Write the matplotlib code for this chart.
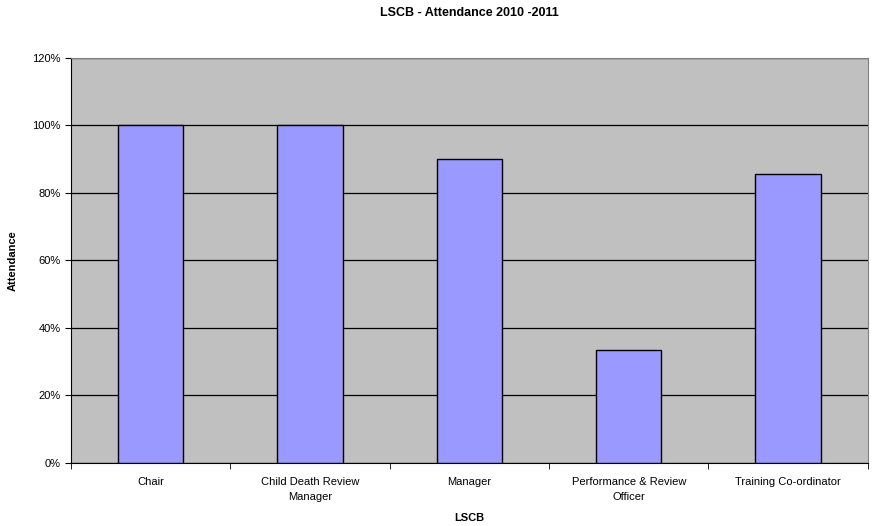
import matplotlib.pyplot as plt
import matplotlib.ticker as mticker

categories = ['Chair', 'Child Death Review\nManager', 'Manager',
              'Performance & Review\nOfficer', 'Training Co-ordinator']
attendance = [1.0, 1.0, 0.90, 0.333, 0.857]

plt.rcParams['font.family'] = ['Liberation Sans', 'DejaVu Sans']

fig = plt.figure(figsize=(8.74, 5.26), dpi=100)
ax = fig.add_axes([0.081, 0.12, 0.912, 0.77])
ax.set_facecolor('#C0C0C0')

x = range(len(categories))
ax.bar(x, attendance, width=0.41, color='#9999FF', edgecolor='black', linewidth=1, zorder=3)

ax.set_ylim(0, 1.2)
ax.set_xlim(-0.5, len(categories) - 0.5)
ax.yaxis.set_major_locator(mticker.MultipleLocator(0.2))
ax.yaxis.set_major_formatter(mticker.PercentFormatter(1.0, decimals=0))
ax.grid(axis='y', color='black', linewidth=0.9, zorder=1)

ax.set_xticks(list(x))
ax.set_xticklabels(categories, fontsize=8, va='top', linespacing=1.7)
ax.tick_params(axis='x', length=0, pad=10)
ax.set_xticks([i - 0.5 for i in range(len(categories) + 1)], minor=True)
ax.tick_params(axis='x', which='minor', length=4, direction='out', color='black')
ax.tick_params(axis='y', labelsize=8, length=4, direction='out', color='black')

for side in ['top', 'right']:
    ax.spines[side].set_color('#808080')
ax.spines['left'].set_color('black')
ax.spines['bottom'].set_color('black')

fig.text(0.537, 1 - 13 / 526, 'LSCB - Attendance 2010 -2011', fontsize=9,
         fontweight='bold', ha='center', va='center')
ax.set_xlabel('LSCB', fontsize=8, fontweight='bold', labelpad=8)
ax.set_ylabel('Attendance', fontsize=8, fontweight='bold', labelpad=10)

plt.savefig('out.png', dpi=100)
